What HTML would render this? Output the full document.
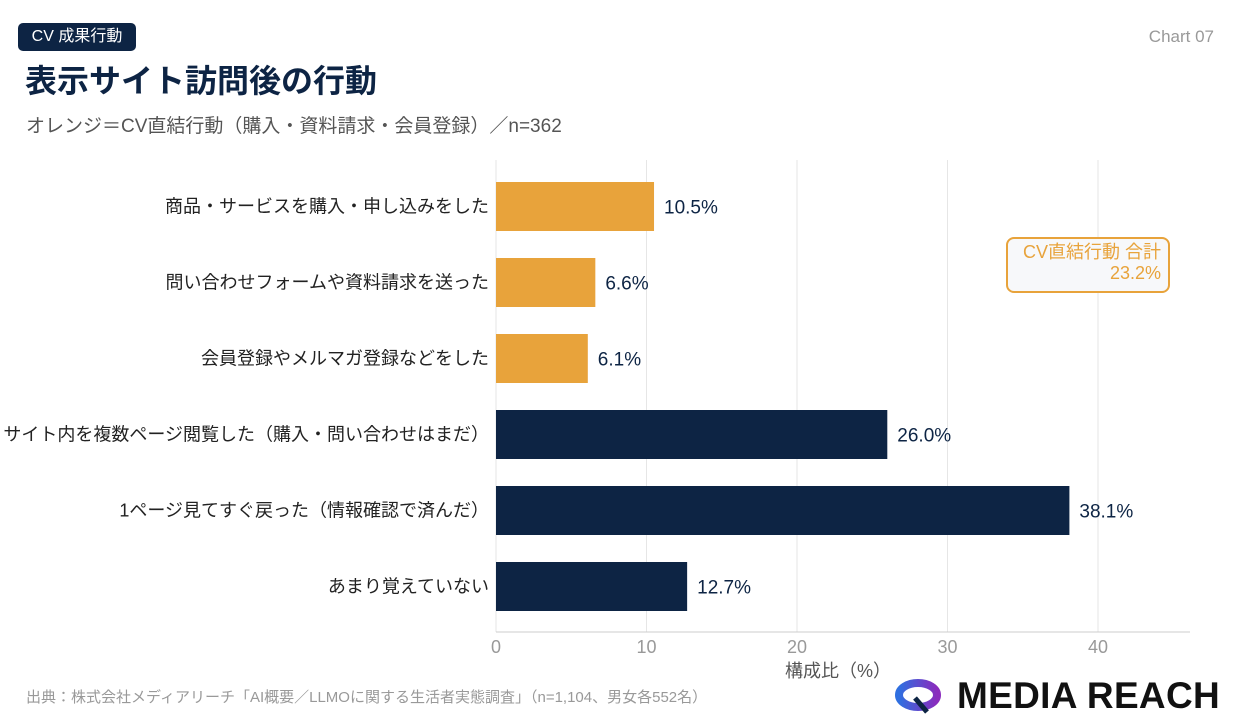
<!DOCTYPE html>
<html><head><meta charset="utf-8">
<style>
body{margin:0;width:1240px;height:719px;background:#fff;overflow:hidden;font-family:"Liberation Sans","Noto Sans CJK JP",sans-serif;position:relative}
.abs{position:absolute}
</style></head><body>
<div class="abs" style="left:18px;top:23px;width:118px;height:28px;background:#0d2444;border-radius:5px;color:#fff;font-size:16px;line-height:28px;text-align:center">CV 成果行動</div>
<div class="abs" style="right:26px;top:27px;color:#999;font-size:17px">Chart 07</div>
<div class="abs" style="left:25px;top:56px;color:#0d2444;font-size:32px;font-weight:bold">表示サイト訪問後の行動</div>
<div class="abs" style="left:26px;top:111px;color:#555;font-size:19px">オレンジ＝CV直結行動（購入・資料請求・会員登録）／n=362</div>
<svg class="abs" style="left:0;top:0" width="1240" height="719" id="chart"></svg>
<div class="abs" style="left:1006px;top:237px;width:148px;height:49px;border:2px solid #e8a33b;border-radius:8px;background:#f7f8fa;color:#e8a33b;font-size:18px;line-height:21px;text-align:right;padding:3px 7px 0 5px">CV直結行動 合計<br>23.2%</div>
<div class="abs" style="left:26px;top:686px;color:#999;font-size:15px">出典：株式会社メディアリーチ「AI概要／LLMOに関する生活者実態調査」（n=1,104、男女各552名）</div>
<div class="abs" style="left:893px;top:678px;width:345px;height:38px">
<svg width="50" height="36" style="position:absolute;left:0;top:0"><defs><linearGradient id="lg" x1="0" x2="1"><stop offset="0" stop-color="#2f6fe0"/><stop offset="1" stop-color="#8a2bbd"/></linearGradient></defs><ellipse cx="25" cy="17" rx="19" ry="12" fill="none" stroke="url(#lg)" stroke-width="8"/><path d="M22 20 L34 34" stroke="#0d2444" stroke-width="5"/></svg>
<div style="position:absolute;left:64px;top:-2px;font-size:37px;font-weight:bold;color:#111;line-height:40px;letter-spacing:0.3px">MEDIA REACH</div>
</div>
<script>
const categories=["商品・サービスを購入・申し込みをした","問い合わせフォームや資料請求を送った","会員登録やメルマガ登録などをした","サイト内を複数ページ閲覧した（購入・問い合わせはまだ）","1ページ見てすぐ戻った（情報確認で済んだ）","あまり覚えていない"];
const values=[10.5,6.6,6.1,26.0,38.1,12.7];
const isCV=[true,true,true,false,false,false];
const ticks=[0,10,20,30,40];
const svg=document.getElementById('chart');
const NS='http://www.w3.org/2000/svg';
const x0=496,pxPer=15.05,barH=49,step=76;
const xs=v=>x0+v*pxPer;
function mk(t,a){const e=document.createElementNS(NS,t);for(const k in a)e.setAttribute(k,a[k]);svg.appendChild(e);return e;}
ticks.forEach(t=>{
 const g=mk('line',{x1:xs(t),x2:xs(t),y1:160,y2:632,stroke:'#e6e6e6','stroke-width':1});
 
 
 const tx=mk('text',{x:xs(t),y:653,'text-anchor':'middle','font-size':18,fill:'#999'});
 tx.textContent=t;
 
 
});
const ax=mk('line',{x1:x0,x2:1190,y1:632,y2:632,stroke:'#ccc','stroke-width':1});


const at=mk('text',{x:838,y:677,'text-anchor':'middle','font-size':18,fill:'#555'});
at.textContent='構成比（%）';


categories.forEach((c,i)=>{
 const by=182+i*step;
 const r=mk('rect',{x:x0,y:by,width:xs(values[i])-x0,height:barH,fill:isCV[i]?'#e8a33b':'#0d2444'});
 
 
 const l=mk('text',{x:489,y:by+barH/2+6,'text-anchor':'end','font-size':18,fill:'#222'});
 l.textContent=c;
 
 
 const v=mk('text',{x:xs(values[i])+10,y:by+barH/2+7,'font-size':19,fill:'#0d2444'});
 v.textContent=values[i].toFixed(1)+'%';
 
 
});
</script>
</body></html>
